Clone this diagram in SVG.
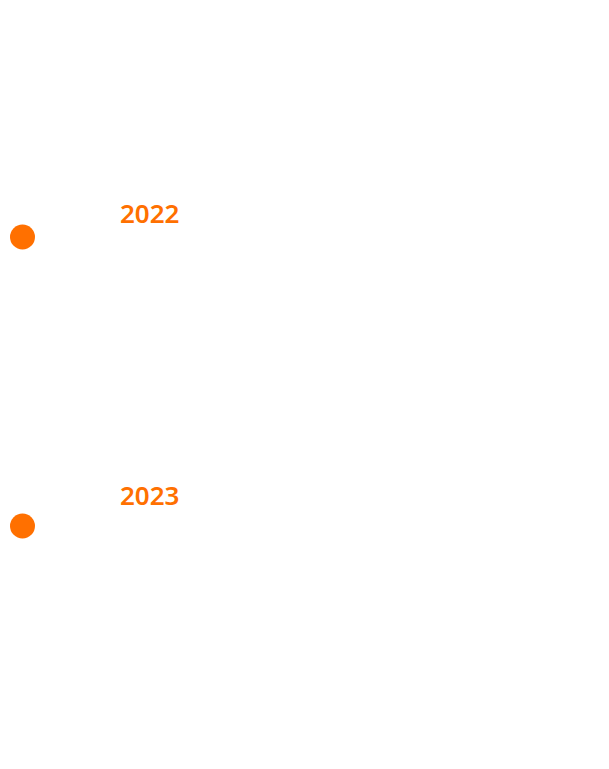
<svg xmlns="http://www.w3.org/2000/svg" width="609" height="769" viewBox="0 0 609 769">
<style>
.dot{fill:#ff7000}
.yr{fill:#ff7000;font-family:"Noto Sans",sans-serif;font-size:26px;font-weight:600}
</style>
<rect width="609" height="769" fill="#ffffff"/>
<g id="connectors"></g>
<g id="y2022">
<circle class="dot" cx="22.5" cy="237" r="12.5"/>
<text class="yr" x="120" y="222.5">2022</text>
</g>
<g id="y2023">
<circle class="dot" cx="22.5" cy="526" r="12.5"/>
<text class="yr" x="120" y="504.5">2023</text>
</g>
</svg>
